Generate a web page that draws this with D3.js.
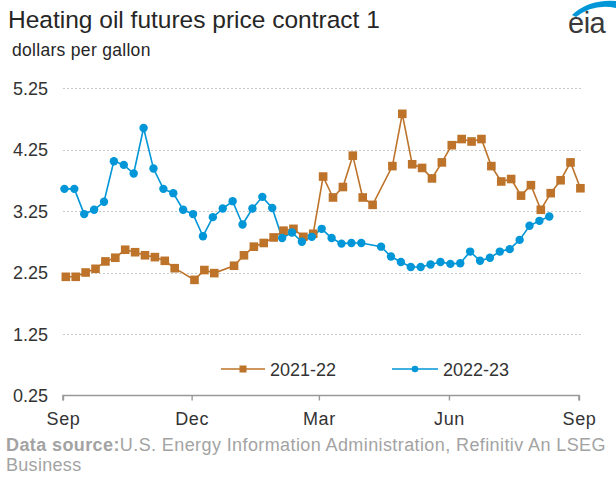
<!DOCTYPE html>
<html>
<head>
<meta charset="utf-8">
<script src="https://cdn.jsdelivr.net/npm/d3@7"></script>
<style>
  html, body { margin: 0; padding: 0; background: #fff; }
  svg { display: block; font-family: "Liberation Sans", Arial, sans-serif; }
</style>
</head>
<body>
<svg id="chart" width="616" height="477"></svg>
<script>
// ---- data ----
const titleText = "Heating oil futures price contract 1";
const unitText = "dollars per gallon";
const sourceBold = "Data source:";
const sourceRest = "U.S. Energy Information Administration, Refinitiv An LSEG";
const sourceLine2 = "Business";

const seriesNames = ["2021-22", "2022-23"];
const seriesColors = ["#BD732A", "#0096D7"];

const yTicks = [0.25, 1.25, 2.25, 3.25, 4.25, 5.25];
const xTickLabels = ["Sep", "Dec", "Mar", "Jun", "Sep"];
const xTickDates = ["2022-09-01", "2022-12-01", "2023-03-01", "2023-06-01", "2023-09-01"];

const dates2122 = [
  "2021-09-03","2021-09-10","2021-09-17","2021-09-24","2021-10-01","2021-10-08","2021-10-15","2021-10-22",
  "2021-10-29","2021-11-05","2021-11-12","2021-11-19","2021-12-03","2021-12-10","2021-12-17","2021-12-31",
  "2022-01-07","2022-01-14","2022-01-21","2022-01-28","2022-02-04","2022-02-11","2022-02-18","2022-02-25",
  "2022-03-04","2022-03-11","2022-03-18","2022-03-25","2022-04-01","2022-04-08","2022-04-22","2022-04-29",
  "2022-05-06","2022-05-13","2022-05-20","2022-05-27","2022-06-03","2022-06-10","2022-06-17","2022-06-24",
  "2022-07-01","2022-07-08","2022-07-15","2022-07-22","2022-07-29","2022-08-05","2022-08-12","2022-08-19",
  "2022-08-26","2022-09-02"
];
const values2122 = [
  2.18, 2.18, 2.25, 2.31, 2.43, 2.49, 2.62, 2.58,
  2.53, 2.50, 2.44, 2.32, 2.13, 2.29, 2.24, 2.36,
  2.53, 2.67, 2.73, 2.82, 2.93, 2.96, 2.83, 2.88,
  3.81, 3.47, 3.64, 4.15, 3.47, 3.35, 3.98, 4.83,
  4.01, 3.95, 3.78, 4.04, 4.32, 4.42, 4.38, 4.42,
  3.98, 3.73, 3.77, 3.50, 3.67, 3.27, 3.54, 3.75,
  4.04, 3.62
];

const dates2223 = [
  "2022-09-02","2022-09-09","2022-09-16","2022-09-23","2022-09-30","2022-10-07","2022-10-14","2022-10-21",
  "2022-10-28","2022-11-04","2022-11-11","2022-11-18","2022-11-25","2022-12-02","2022-12-09","2022-12-16",
  "2022-12-23","2022-12-30","2023-01-06","2023-01-13","2023-01-20","2023-01-27","2023-02-03","2023-02-10",
  "2023-02-17","2023-02-24","2023-03-03","2023-03-10","2023-03-17","2023-03-24","2023-03-31","2023-04-14",
  "2023-04-21","2023-04-28","2023-05-05","2023-05-12","2023-05-19","2023-05-26","2023-06-02","2023-06-09",
  "2023-06-16","2023-06-23","2023-06-30","2023-07-07","2023-07-14","2023-07-21","2023-07-28","2023-08-04",
  "2023-08-11"
];
const values2223 = [
  3.61, 3.61, 3.20, 3.27, 3.40, 4.06, 4.00, 3.86,
  4.60, 3.94, 3.61, 3.54, 3.27, 3.20, 2.84, 3.15,
  3.29, 3.41, 3.03, 3.29, 3.48, 3.30, 2.81, 2.90,
  2.75, 2.83, 2.96, 2.81, 2.72, 2.73, 2.73, 2.67,
  2.51, 2.42, 2.34, 2.34, 2.38, 2.42, 2.39, 2.40,
  2.59, 2.44, 2.49, 2.59, 2.63, 2.78, 3.01, 3.09,
  3.16
];

// ---- build ----
(function () {
const parse = d3.timeParse("%Y-%m-%d");
const s2122 = dates2122.map((d, i) => ({ date: d3.timeYear.offset(parse(d), 1), value: values2122[i] }));
const s2223 = dates2223.map((d, i) => ({ date: parse(d), value: values2223[i] }));

const svg = d3.select("#chart");
const plotLeft = 63, plotRight = 579, plotTop = 88, plotBottom = 395.5;

const x = d3.scaleTime()
  .domain([parse(xTickDates[0]), parse(xTickDates[xTickDates.length - 1])])
  .range([plotLeft, plotRight]);
const y = d3.scaleLinear().domain([0.25, 5.25]).range([plotBottom, plotTop]);

// title
svg.append("text").attr("x", 8).attr("y", 28).attr("font-size", 24.5).attr("fill", "#262626").text(titleText);
svg.append("text").attr("x", 12).attr("y", 56).attr("font-size", 17.5).attr("letter-spacing", 0.3)
  .attr("fill", "#262626").text(unitText);

// logo
const logo = svg.append("g");
logo.append("path")
  .attr("d", "M572,15 Q589,-1 616,1 L616,8 Q594,3 576,17 Z")
  .attr("fill", "#0096D7");
logo.append("text").attr("x", 568).attr("y", 33).attr("font-size", 29).attr("fill", "#3a3a3a")
  .attr("letter-spacing", -0.5).text("eia");

// gridlines
svg.append("g").selectAll("line")
  .data(yTicks.filter(t => t > 0.25))
  .join("line")
  .attr("x1", plotLeft).attr("x2", 582)
  .attr("y1", d => Math.round(y(d)) + 0.5).attr("y2", d => Math.round(y(d)) + 0.5)
  .attr("stroke", "#c8c8c8").attr("stroke-width", 1).attr("stroke-dasharray", "2,2");

// y labels
svg.append("g").selectAll("text")
  .data(yTicks)
  .join("text")
  .attr("x", 48).attr("y", d => y(d) + 6.5)
  .attr("text-anchor", "end").attr("font-size", 18).attr("fill", "#333")
  .text(d => d.toFixed(2));

// x axis
const xAxis = d3.axisBottom(x)
  .tickValues(xTickDates.map(parse))
  .tickSize(5)
  .tickFormat((d, i) => xTickLabels[i]);
const gx = svg.append("g").attr("transform", `translate(0,${plotBottom})`).call(xAxis);
gx.select(".domain").attr("stroke", "#999").attr("stroke-width", 1.6).attr("d", `M${plotLeft},5V0H${plotRight}V5`);
gx.selectAll(".tick line").attr("stroke", "#999").attr("stroke-width", 1.4);
gx.selectAll(".tick text")
  .attr("font-size", 18).attr("fill", "#333").attr("dy", null).attr("y", 29)
  .attr("letter-spacing", 0.6)
  .attr("font-family", "'Liberation Sans', Arial, sans-serif");

// lines
const line = d3.line().x(d => x(d.date)).y(d => y(d.value));
svg.append("path").datum(s2122).attr("d", line)
  .attr("fill", "none").attr("stroke", seriesColors[0]).attr("stroke-width", 1.6);
svg.append("path").datum(s2223).attr("d", line)
  .attr("fill", "none").attr("stroke", seriesColors[1]).attr("stroke-width", 1.6);

// markers
svg.append("g").selectAll("rect").data(s2122).join("rect")
  .attr("x", d => x(d.date) - 4.3).attr("y", d => y(d.value) - 4.3)
  .attr("width", 8.6).attr("height", 8.6).attr("fill", seriesColors[0]);
svg.append("g").selectAll("circle").data(s2223).join("circle")
  .attr("cx", d => x(d.date)).attr("cy", d => y(d.value)).attr("r", 4.2)
  .attr("fill", seriesColors[1]);

// legend
const legY = 369;
const leg = svg.append("g");
leg.append("line").attr("x1", 221).attr("x2", 265).attr("y1", legY).attr("y2", legY)
  .attr("stroke", seriesColors[0]).attr("stroke-width", 1.6);
leg.append("rect").attr("x", 243 - 3.5).attr("y", legY - 3.5).attr("width", 7).attr("height", 7).attr("fill", seriesColors[0]);
leg.append("text").attr("x", 270).attr("y", legY + 6.5).attr("font-size", 18).attr("fill", "#333").text(seriesNames[0]);
leg.append("line").attr("x1", 392).attr("x2", 438).attr("y1", legY).attr("y2", legY)
  .attr("stroke", seriesColors[1]).attr("stroke-width", 1.6);
leg.append("circle").attr("cx", 415).attr("cy", legY).attr("r", 3.3).attr("fill", seriesColors[1]);
leg.append("text").attr("x", 443).attr("y", legY + 6.5).attr("font-size", 18).attr("fill", "#333").text(seriesNames[1]);

// source
const src = svg.append("text").attr("x", 6).attr("y", 451).attr("font-size", 18).attr("fill", "#a3a3a3");
src.append("tspan").attr("font-weight", "bold").attr("letter-spacing", 0.4).text(sourceBold);
src.append("tspan").attr("letter-spacing", 0.4).text(sourceRest);
svg.append("text").attr("x", 6).attr("y", 471).attr("font-size", 18).attr("letter-spacing", 0.3)
  .attr("fill", "#a3a3a3").text(sourceLine2);
})();
</script>
</body>
</html>
